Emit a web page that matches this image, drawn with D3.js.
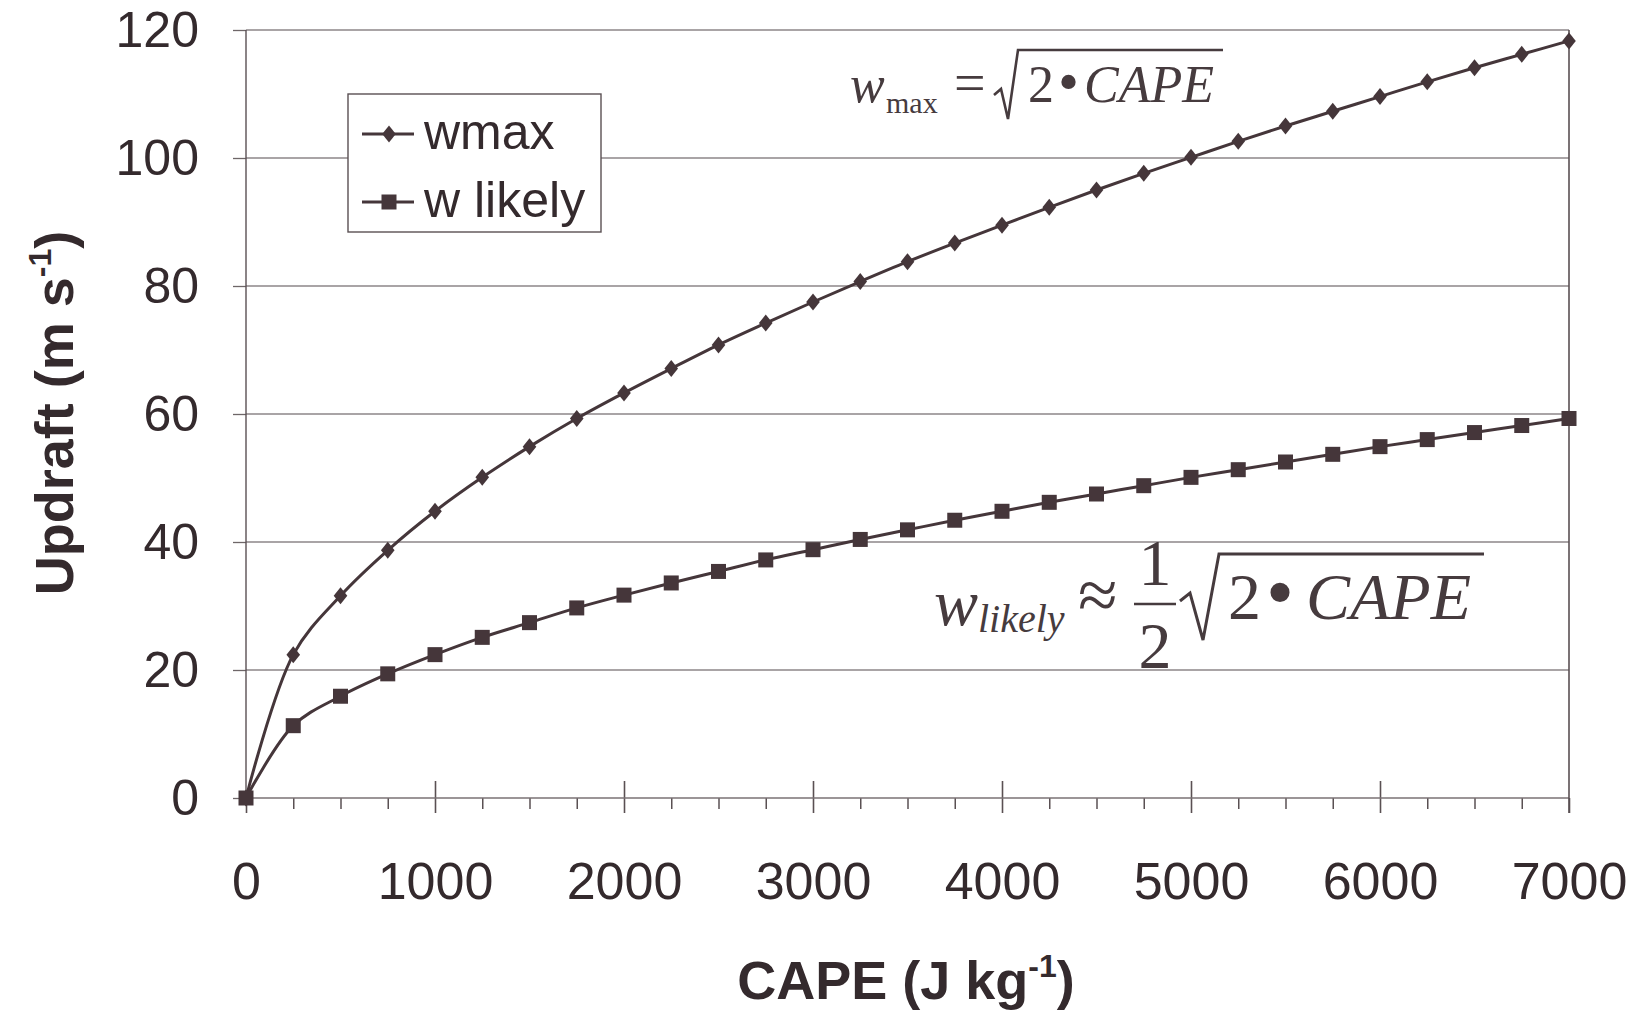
<!DOCTYPE html>
<html><head><meta charset="utf-8">
<script src="https://cdn.jsdelivr.net/npm/d3@7"></script>
<style>body{margin:0;background:#fff;} svg{display:block}</style>
</head><body><svg id="chart" width="1639" height="1010"></svg>
<script>
// ---- data ----
const cape = [0,250,500,750,1000,1250,1500,1750,2000,2250,2500,2750,3000,3250,3500,3750,4000,4250,4500,4750,5000,5250,5500,5750,6000,6250,6500,6750,7000];
const wmax = [0,22.4,31.6,38.7,44.8,50.1,54.9,59.3,63.3,67.1,70.8,74.2,77.5,80.7,83.8,86.7,89.5,92.3,95.0,97.6,100.1,102.6,105.0,107.3,109.6,111.9,114.1,116.2,118.3];
const wlikely = [0,11.3,15.9,19.4,22.4,25.1,27.4,29.7,31.7,33.6,35.4,37.2,38.8,40.4,41.9,43.4,44.8,46.2,47.5,48.8,50.1,51.3,52.5,53.7,54.9,56.0,57.1,58.2,59.3];
const seriesNames = ["wmax", "w likely"];
const xTicks = [0,1000,2000,3000,4000,5000,6000,7000];
const xMinorTicks = [250,500,750,1250,1500,1750,2250,2500,2750,3250,3500,3750,4250,4500,4750,5250,5500,5750,6250,6500,6750];
const yTicks = [0,20,40,60,80,100,120];

const ink = "#342a2d";
const lineCol = "#45363a";
const sans = "'Liberation Sans', Arial, sans-serif";
const serif = "'Liberation Serif', 'Times New Roman', serif";

const svg = d3.select("#chart");
const x = d3.scaleLinear().domain([0,7000]).range([246,1569]);
const y = d3.scaleLinear().domain([0,120]).range([798,30]);

// gridlines
svg.append("g").selectAll("line").data(yTicks.filter(d=>d>0)).join("line")
  .attr("x1", x(0)).attr("x2", x(7000)).attr("y1", d=>y(d)).attr("y2", d=>y(d))
  .attr("stroke", "#8c8688").attr("stroke-width", 1.3);

// y axis
const yAxis = svg.append("g").attr("transform", `translate(${x(0)},0)`)
  .call(d3.axisLeft(y).tickValues(yTicks).tickSize(13).tickPadding(34).tickFormat(d3.format("d")));
yAxis.select(".domain").remove();
yAxis.selectAll(".tick line").attr("stroke", "#6e6668").attr("stroke-width", 1.3);
yAxis.selectAll(".tick text").attr("font-family", sans).attr("font-size", 50).attr("fill", ink);

// x axis minor ticks
const xMinor = svg.append("g").attr("transform", `translate(0,${y(0)})`)
  .call(d3.axisBottom(x).tickValues(xMinorTicks).tickSize(11).tickFormat(""));
xMinor.select(".domain").remove();
xMinor.selectAll(".tick line").attr("stroke", "#5a5053").attr("stroke-width", 1.5);

// x axis major ticks + labels
const xAxis = svg.append("g").attr("transform", `translate(0,${y(0)})`)
  .call(d3.axisBottom(x).tickValues(xTicks).tickSize(15).tickPadding(49).tickFormat(d3.format("d")));
xAxis.select(".domain").remove();
xAxis.selectAll(".tick line").attr("y1", d => (d === 0 || d === 7000) ? 0 : -17)
  .attr("stroke", "#5a5053").attr("stroke-width", 1.6);
xAxis.selectAll(".tick text").attr("font-family", sans).attr("font-size", 52).attr("fill", ink);

// frame lines
svg.append("line").attr("x1", x(0)).attr("x2", x(0)).attr("y1", y(120)).attr("y2", y(0))
  .attr("stroke", "#5a5053").attr("stroke-width", 1.4);
svg.append("line").attr("x1", x(0)-1).attr("x2", x(7000)).attr("y1", y(0)).attr("y2", y(0))
  .attr("stroke", "#7a7274").attr("stroke-width", 1.4);
svg.append("line").attr("x1", x(7000)).attr("x2", x(7000)).attr("y1", y(120)).attr("y2", y(0)+15)
  .attr("stroke", "#5a5053").attr("stroke-width", 1.6);

// series
const line = d3.line().x((d,i)=>x(cape[i])).y(d=>y(d)).curve(d3.curveCatmullRom.alpha(0.5));
svg.append("path").datum(wmax).attr("d", line).attr("fill","none").attr("stroke", lineCol).attr("stroke-width", 3);
svg.append("path").datum(wlikely).attr("d", line).attr("fill","none").attr("stroke", lineCol).attr("stroke-width", 3);

const diamond = (cx, cy, s) => `M${cx},${cy-s} L${cx+s*0.8},${cy} L${cx},${cy+s} L${cx-s*0.8},${cy} Z`;
svg.append("g").selectAll("path").data(wmax).join("path")
  .attr("d", (d,i)=>diamond(x(cape[i]), y(d), 8.5)).attr("fill", lineCol);
svg.append("g").selectAll("rect").data(wlikely).join("rect")
  .attr("x", (d,i)=>x(cape[i])-7.5).attr("y", d=>y(d)-7.5).attr("width", 15).attr("height", 15).attr("fill", lineCol);

// legend
const lg = svg.append("g");
lg.append("rect").attr("x", 348).attr("y", 94).attr("width", 253).attr("height", 138)
  .attr("fill", "#fff").attr("stroke", "#5a5053").attr("stroke-width", 1.4);
const rows = [134, 202];
seriesNames.forEach((name, i) => {
  lg.append("line").attr("x1", 362).attr("x2", 414).attr("y1", rows[i]).attr("y2", rows[i])
    .attr("stroke", lineCol).attr("stroke-width", 3);
  if (i === 0) lg.append("path").attr("d", diamond(389, rows[i], 8.5)).attr("fill", lineCol);
  else lg.append("rect").attr("x", 381.5).attr("y", rows[i]-7.5).attr("width", 15).attr("height", 15).attr("fill", lineCol);
  lg.append("text").attr("x", 424).attr("y", rows[i] + 15).attr("font-family", sans)
    .attr("font-size", 50).attr("fill", ink).text(name);
});

// axis titles
const xt = svg.append("text").attr("x", 906).attr("y", 999).attr("text-anchor", "middle")
  .attr("font-family", sans).attr("font-weight", "bold").attr("font-size", 54).attr("fill", ink);
xt.append("tspan").text("CAPE (J kg");
xt.append("tspan").attr("font-size", 32).attr("dy", -22).text("-1");
xt.append("tspan").attr("dy", 22).text(")");

const yt = svg.append("text").attr("transform", "translate(73,413) rotate(-90)").attr("text-anchor", "middle")
  .attr("font-family", sans).attr("font-weight", "bold").attr("font-size", 54).attr("fill", ink);
yt.append("tspan").text("Updraft (m s");
yt.append("tspan").attr("font-size", 32).attr("dy", -22).text("-1");
yt.append("tspan").attr("dy", 22).text(")");

// formula annotations
const fcol = "#463b3e";
function ft(t, px, py, size, italic, anchor) {
  svg.append("text").attr("x", px).attr("y", py).attr("font-family", serif)
    .attr("font-size", size).attr("font-style", italic ? "italic" : "normal")
    .attr("text-anchor", anchor || "start").attr("fill", fcol).text(t);
}
// w_max = sqrt(2 • CAPE)
ft("w", 850, 102, 52, true);
ft("max", 886, 113, 30, false);
ft("=", 954, 102, 56, false);
svg.append("path").attr("d", "M994,95 L1001,89 L1008,119 L1018,50 L1223,50")
  .attr("fill", "none").attr("stroke", fcol).attr("stroke-width", 2.6).attr("stroke-linejoin", "miter");
ft("2", 1028, 102, 52, false);
ft("•", 1058, 102, 60, false);
ft("CAPE", 1084, 102, 52, true);

// w_likely ≈ 1/2 sqrt(2 • CAPE)
ft("w", 934, 625, 66, true);
ft("likely", 978, 632, 40, true);
ft("≈", 1078, 619, 72, false);
ft("1", 1155, 585, 66, false, "middle");
svg.append("line").attr("x1", 1134).attr("x2", 1176).attr("y1", 604).attr("y2", 604)
  .attr("stroke", fcol).attr("stroke-width", 2.6);
ft("2", 1155, 668, 66, false, "middle");
svg.append("path").attr("d", "M1180,601 L1190,593 L1203,640 L1219,554 L1484,554")
  .attr("fill", "none").attr("stroke", fcol).attr("stroke-width", 3).attr("stroke-linejoin", "miter");
ft("2", 1228, 619, 66, false);
ft("•", 1266, 619, 80, false);
ft("CAPE", 1306, 619, 66, true);
</script>
</body></html>
